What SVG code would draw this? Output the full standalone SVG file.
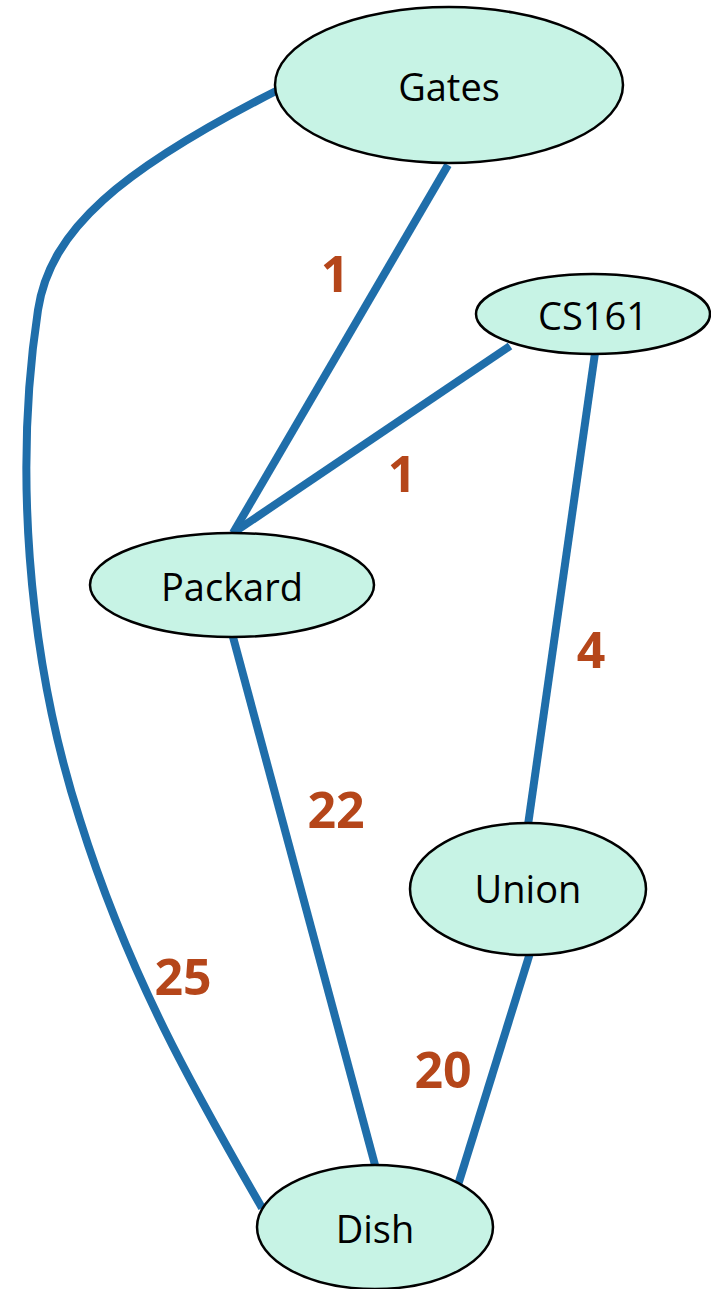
<svg xmlns="http://www.w3.org/2000/svg" width="711" height="1289" viewBox="0 0 711 1289">
<style>
.node ellipse{fill:#C7F3E5;stroke:#000;stroke-width:2.5}
.node text{font-family:"Open Sans","Noto Sans",sans-serif;font-size:38px;fill:#000;text-anchor:middle}
.edge{fill:none;stroke:#1F6EAA;stroke-width:8}
.w{font-family:"Open Sans","Noto Sans",sans-serif;font-size:50px;font-weight:bold;fill:#B5461A;text-anchor:middle}
</style>
<rect width="711" height="1289" fill="#fff"/>
<g id="connectors">
<path class="edge" d="M278,90 C120,170 50,230 38,310 C15,460 25,650 80,820 C130,980 200,1100 262,1208"/>
<line class="edge" x1="448" y1="165" x2="233" y2="533"/>
<line class="edge" x1="510" y1="346" x2="233" y2="533"/>
<line class="edge" x1="595" y1="353" x2="528" y2="825"/>
<line class="edge" x1="233" y1="637" x2="375" y2="1165"/>
<line class="edge" x1="530" y1="953" x2="458" y2="1185"/>
</g>
<g id="labels">
<text class="w" x="335" y="292">1</text>
<text class="w" x="402" y="492">1</text>
<text class="w" x="591" y="668">4</text>
<text class="w" x="336" y="828">22</text>
<text class="w" x="183" y="995">25</text>
<text class="w" x="443" y="1088">20</text>
</g>
<g id="gates" class="node"><ellipse cx="449" cy="85" rx="174" ry="78"/><text x="449" y="101">Gates</text></g>
<g id="cs161" class="node"><ellipse cx="593" cy="314" rx="117" ry="40"/><text x="593" y="330">CS161</text></g>
<g id="packard" class="node"><ellipse cx="232" cy="585" rx="142" ry="52"/><text x="232" y="601">Packard</text></g>
<g id="union" class="node"><ellipse cx="528" cy="889" rx="118" ry="66"/><text x="528" y="903">Union</text></g>
<g id="dish" class="node"><ellipse cx="375" cy="1227" rx="118" ry="62"/><text x="375" y="1243">Dish</text></g>
</svg>
